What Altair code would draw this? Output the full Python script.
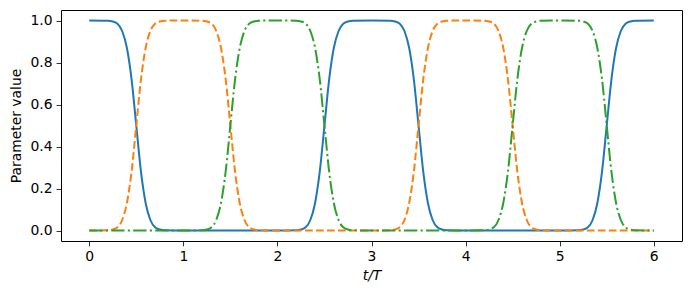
import altair as alt
import pandas as pd

# time grid (t/T)
t = [0.0,
     0.2, 0.25, 0.3, 0.35, 0.4, 0.45, 0.5, 0.55, 0.6, 0.65, 0.7, 0.75, 0.8,
     1.0,
     1.2, 1.25, 1.3, 1.35, 1.4, 1.45, 1.5, 1.55, 1.6, 1.65, 1.7, 1.75, 1.8,
     2.0,
     2.2, 2.25, 2.3, 2.35, 2.4, 2.45, 2.5, 2.55, 2.6, 2.65, 2.7, 2.75, 2.8,
     3.0,
     3.2, 3.25, 3.3, 3.35, 3.4, 3.45, 3.5, 3.55, 3.6, 3.65, 3.7, 3.75, 3.8,
     4.0,
     4.2, 4.25, 4.3, 4.35, 4.4, 4.45, 4.5, 4.55, 4.6, 4.65, 4.7, 4.75, 4.8,
     5.0,
     5.2, 5.25, 5.3, 5.35, 5.4, 5.45, 5.5, 5.55, 5.6, 5.65, 5.7, 5.75, 5.8,
     6.0]

blue = [1.0,
        0.999, 0.995, 0.985, 0.95, 0.87, 0.72, 0.5, 0.28, 0.13, 0.05, 0.015, 0.005, 0.001,
        0.0,
        0.0, 0.0, 0.0, 0.0, 0.0, 0.0, 0.0, 0.0, 0.0, 0.0, 0.0, 0.0, 0.0,
        0.0,
        0.001, 0.005, 0.015, 0.05, 0.13, 0.28, 0.5, 0.72, 0.87, 0.95, 0.985, 0.995, 0.999,
        1.0,
        0.999, 0.995, 0.985, 0.95, 0.87, 0.72, 0.5, 0.28, 0.13, 0.05, 0.015, 0.005, 0.001,
        0.0,
        0.0, 0.0, 0.0, 0.0, 0.0, 0.0, 0.0, 0.0, 0.0, 0.0, 0.0, 0.0, 0.0,
        0.0,
        0.001, 0.005, 0.015, 0.05, 0.13, 0.28, 0.5, 0.72, 0.87, 0.95, 0.985, 0.995, 0.999,
        1.0]

orange = [0.0,
          0.001, 0.005, 0.015, 0.05, 0.13, 0.28, 0.5, 0.72, 0.87, 0.95, 0.985, 0.995, 0.999,
          1.0,
          0.999, 0.995, 0.985, 0.95, 0.87, 0.72, 0.5, 0.28, 0.13, 0.05, 0.015, 0.005, 0.001,
          0.0,
          0.0, 0.0, 0.0, 0.0, 0.0, 0.0, 0.0, 0.0, 0.0, 0.0, 0.0, 0.0, 0.0,
          0.0,
          0.001, 0.005, 0.015, 0.05, 0.13, 0.28, 0.5, 0.72, 0.87, 0.95, 0.985, 0.995, 0.999,
          1.0,
          0.999, 0.995, 0.985, 0.95, 0.87, 0.72, 0.5, 0.28, 0.13, 0.05, 0.015, 0.005, 0.001,
          0.0,
          0.0, 0.0, 0.0, 0.0, 0.0, 0.0, 0.0, 0.0, 0.0, 0.0, 0.0, 0.0, 0.0,
          0.0]

green = [0.0,
         0.0, 0.0, 0.0, 0.0, 0.0, 0.0, 0.0, 0.0, 0.0, 0.0, 0.0, 0.0, 0.0,
         0.0,
         0.001, 0.005, 0.015, 0.05, 0.13, 0.28, 0.5, 0.72, 0.87, 0.95, 0.985, 0.995, 0.999,
         1.0,
         0.999, 0.995, 0.985, 0.95, 0.87, 0.72, 0.5, 0.28, 0.13, 0.05, 0.015, 0.005, 0.001,
         0.0,
         0.0, 0.0, 0.0, 0.0, 0.0, 0.0, 0.0, 0.0, 0.0, 0.0, 0.0, 0.0, 0.0,
         0.0,
         0.001, 0.005, 0.015, 0.05, 0.13, 0.28, 0.5, 0.72, 0.87, 0.95, 0.985, 0.995, 0.999,
         1.0,
         0.999, 0.995, 0.985, 0.95, 0.87, 0.72, 0.5, 0.28, 0.13, 0.05, 0.015, 0.005, 0.001,
         0.0]

x_ticks = [0, 1, 2, 3, 4, 5, 6]
y_ticks = [0.0, 0.2, 0.4, 0.6, 0.8, 1.0]

df = pd.DataFrame({"t": t, "blue": blue, "orange": orange, "green": green})

x_enc = alt.X("t:Q",
              scale=alt.Scale(domain=[-0.3, 6.3], nice=False, zero=False),
              axis=alt.Axis(values=x_ticks, format="d", title="t/T",
                            titleFontStyle="italic", titlePadding=5))


def layer(col, color, dash=None):
    kw = dict(color=color, strokeWidth=2, interpolate="monotone")
    if dash is not None:
        kw["strokeDash"] = dash
    y_enc = alt.Y(f"{col}:Q",
                  scale=alt.Scale(domain=[-0.05, 1.05], nice=False, zero=False),
                  axis=alt.Axis(values=y_ticks, format=".1f",
                                title="Parameter value", titlePadding=7))
    return alt.Chart(df).mark_line(**kw).encode(x=x_enc, y=y_enc)


chart = alt.layer(
    layer("blue", "#1f77b4"),
    layer("orange", "#ff7f0e", [7.7, 3.3]),
    layer("green", "#2ca02c", [13.3, 3.3, 2.1, 3.3]),
).properties(
    width=621, height=231,
    autosize=alt.AutoSizeParams(type="none"),
    padding={"left": 61, "top": 10, "right": 9, "bottom": 54},
).configure_view(
    stroke="black", strokeWidth=1
).configure_axis(
    domain=False, grid=False,
    tickColor="black", tickSize=4.9, tickWidth=0.8,
    labelFont="DejaVu Sans", labelFontSize=13.9, labelColor="black", labelPadding=4,
    titleFont="DejaVu Sans", titleFontSize=13.9, titleFontWeight="normal",
    titleColor="black",
)

chart.save("out.html", embed_options={"renderer": "svg", "actions": False})
